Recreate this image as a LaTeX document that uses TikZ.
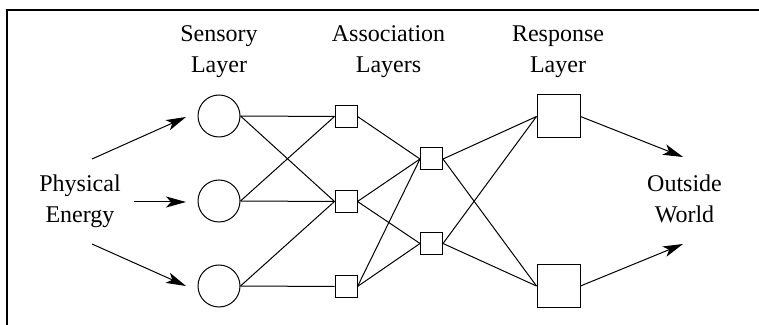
\documentclass[tikz,border=0pt]{standalone}
\usepackage{fontspec}
\setmainfont{Liberation Serif}
\usetikzlibrary{arrows.meta}
\begin{document}
\begin{tikzpicture}[x=0.5pt,y=-0.5pt,
 line width=0.5pt,
 sens/.style={circle,draw,minimum size=21pt,inner sep=0pt},
 assoc/.style={rectangle,draw,minimum size=11pt,inner sep=0pt},
 resp/.style={rectangle,draw,minimum size=21.5pt,inner sep=0pt},
 lbl/.style={align=center,font=\fontsize{12}{15.5}\selectfont,inner sep=0pt},
 link/.style={line width=0.5pt},
 arr/.style={line width=0.5pt,-{Stealth[length=10pt,width=5.5pt,inset=2.5pt]}}]
\useasboundingbox (0,0) rectangle (759,325);
\clip (0,0) rectangle (759,325);
\draw[line width=0.65pt] (7,10) rectangle (800,360);

% labels
\node[lbl] (lsens) at (219,51.5) {Sensory\\Layer};
\node[lbl] (lassoc) at (388.5,51.5) {Association\\Layers};
\node[lbl] (lresp) at (558,51.5) {Response\\Layer};
\node[lbl] (lphys) at (80,201.5) {Physical\\Energy};
\node[lbl] (lout) at (684.5,199) {Outside\\World};

% sensory layer
\node[sens] (S1) at (219,116) {};
\node[sens] (S2) at (219,201) {};
\node[sens] (S3) at (219,286) {};
% association layers
\node[assoc] (A1) at (346,116.5) {};
\node[assoc] (A2) at (346,201.5) {};
\node[assoc] (A3) at (346,286.5) {};
\node[assoc] (B1) at (431.5,159) {};
\node[assoc] (B2) at (431.5,243.5) {};
% response layer
\node[resp] (R1) at (558.5,116.5) {};
\node[resp] (R2) at (558.5,286) {};

% links
\foreach \a/\b in {S1/A1,S1/A2,S2/A1,S2/A2,S3/A2,S3/A3,
                   A1/B1,A2/B1,A2/B2,A3/B1,A3/B2,
                   B1/R1,B1/R2,B2/R1,B2/R2}
  \draw[link] (\a.east) -- (\b.west);

% input arrows
\coordinate (in1s) at (92,159);
\coordinate (in1e) at (186,117);
\coordinate (in2s) at (134,202);
\coordinate (in2e) at (186,202);
\coordinate (in3s) at (92,244);
\coordinate (in3e) at (186,286);
\draw[arr] (in1s) -- (in1e);
\draw[arr] (in2s) -- (in2e);
\draw[arr] (in3s) -- (in3e);

% output arrows
\coordinate (out1e) at (683,157);
\coordinate (out2e) at (683,244);
\draw[arr] (R1.east) -- (out1e);
\draw[arr] (R2.east) -- (out2e);
\end{tikzpicture}
\end{document}
